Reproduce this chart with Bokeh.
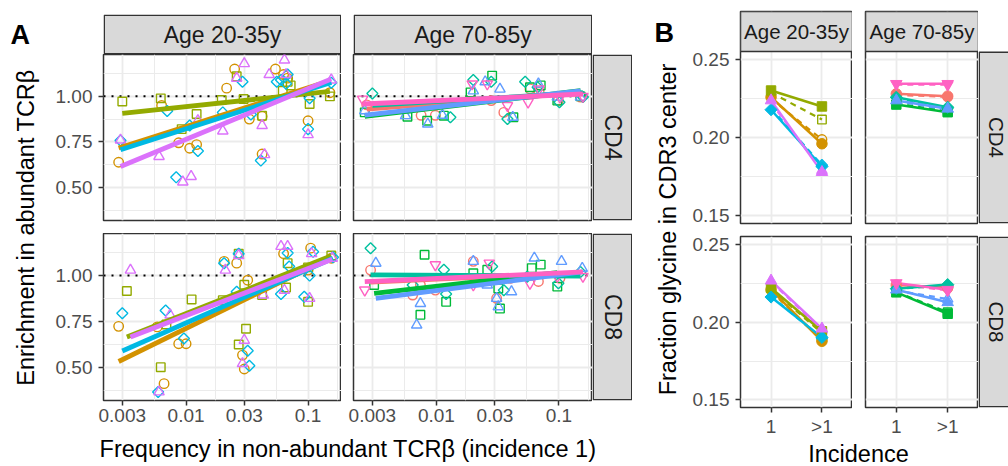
import numpy as np
from bokeh.plotting import figure
from bokeh.layouts import row, column
from bokeh.models import Range1d, FixedTicker, NumeralTickFormatter, Spacer, Label, Span
from bokeh.embed import file_html
from bokeh.resources import INLINE

# ---------------------------------------------------------------- data
# donor colours / shapes (ggplot hue palette, 9 donors)
donor_names = ["salmon", "orange", "olive", "green", "teal", "cyan", "blue", "magenta", "pink"]
donor_colors = ["#F8766D", "#D39200", "#93AA00", "#00BA38", "#00C19F", "#00B9E3", "#619CFF", "#DB72FB", "#FF61C3"]
donor_shapes = ["circle", "circle", "square", "square", "diamond", "diamond", "triangle", "triangle", "inverted_triangle"]

# Panel A  x ticks / y ticks
freq_ticks = [0.003, 0.01, 0.03, 0.1]
freq_minor = [0.005477, 0.01732, 0.05477, 0.1732]
enr_ticks = [0.5, 0.75, 1.0]
enr_minor = [0.375, 0.625, 0.875, 1.125]

# ---- Panel A, Age 20-35y, CD4
ay4_orange_f = [0.0028, 0.0063, 0.0087, 0.0107, 0.0122, 0.0215, 0.025, 0.033, 0.042, 0.042, 0.054, 0.063, 0.068, 0.100, 0.151]
ay4_orange_e = [0.638, 0.950, 0.745, 0.715, 0.735, 1.045, 1.150, 0.875, 0.890, 0.683, 1.150, 1.120, 1.100, 0.866, 1.020]
ay4_olive_f = [0.0030, 0.0062, 0.0092, 0.0122, 0.0196, 0.026, 0.0296, 0.042, 0.062, 0.068, 0.072, 0.103, 0.151]
ay4_olive_e = [0.972, 0.989, 0.820, 0.903, 0.980, 1.110, 0.985, 0.894, 1.030, 1.080, 1.060, 0.958, 1.000]
ay4_cyan_f = [0.0029, 0.0070, 0.0083, 0.0107, 0.0125, 0.020, 0.029, 0.034, 0.041, 0.0554, 0.060, 0.066, 0.068, 0.100, 0.103, 0.155]
ay4_cyan_e = [0.757, 0.920, 0.555, 0.840, 0.700, 0.912, 1.080, 0.900, 0.647, 1.080, 1.090, 1.070, 1.120, 0.820, 0.990, 1.075]
ay4_magenta_f = [0.0029, 0.0060, 0.0094, 0.0110, 0.0125, 0.020, 0.026, 0.030, 0.042, 0.044, 0.048, 0.064, 0.066, 0.100, 0.155]
ay4_magenta_e = [0.760, 0.670, 0.530, 0.560, 0.866, 0.810, 1.100, 1.180, 0.840, 0.680, 1.120, 1.200, 1.120, 0.790, 1.090]
# fitted line values at the smallest / largest frequency of each donor
ay4_fit = {"orange": (0.716, 1.085), "olive": (0.907, 1.027), "cyan": (0.707, 1.077), "magenta": (0.615, 1.095)}

# ---- Panel A, Age 20-35y, CD8
ay8_orange_f = [0.0028, 0.0058, 0.0066, 0.0087, 0.0100, 0.0205, 0.026, 0.029, 0.030, 0.032, 0.063, 0.100, 0.105, 0.155]
ay8_orange_e = [0.723, 0.720, 0.410, 0.628, 0.628, 1.078, 1.068, 0.566, 0.490, 0.975, 1.120, 1.030, 1.150, 1.095]
ay8_olive_f = [0.00327, 0.0062, 0.0069, 0.0111, 0.020, 0.027, 0.027, 0.030, 0.031, 0.042, 0.066, 0.068, 0.100, 0.100, 0.155]
ay8_olive_e = [0.916, 0.500, 0.733, 0.870, 0.866, 1.120, 0.624, 0.950, 0.710, 0.894, 0.935, 1.068, 0.857, 1.045, 1.110]
ay8_cyan_f = [0.0030, 0.0059, 0.0068, 0.0096, 0.0205, 0.026, 0.027, 0.032, 0.033, 0.060, 0.068, 0.070, 0.093, 0.103, 0.110, 0.160]
ay8_cyan_e = [0.794, 0.365, 0.810, 0.656, 1.068, 0.912, 1.120, 0.590, 0.508, 0.900, 1.123, 1.050, 0.885, 1.000, 1.130, 1.100]
ay8_magenta_f = [0.0035, 0.0060, 0.0074, 0.021, 0.027, 0.029, 0.030, 0.043, 0.060, 0.064, 0.068, 0.103, 0.107, 0.158]
ay8_magenta_e = [1.030, 0.365, 0.785, 1.030, 1.110, 0.520, 0.647, 0.894, 1.160, 0.920, 1.160, 0.876, 1.120, 1.095]
ay8_fit = {"orange": (0.531, 1.100), "olive": (0.665, 1.108), "cyan": (0.588, 1.095), "magenta": (0.665, 1.090)}

# ---- Panel A, Age 70-85y, CD4
ao4_salmon_f = [0.0027, 0.0075, 0.0098, 0.028, 0.0355, 0.058, 0.069, 0.099, 0.150]
ao4_salmon_e = [0.953, 0.896, 0.896, 0.977, 0.912, 1.041, 1.022, 0.977, 0.996]
ao4_green_f = [0.0026, 0.0058, 0.0084, 0.0115, 0.019, 0.0285, 0.0425, 0.058, 0.071, 0.097, 0.150]
ao4_green_e = [0.912, 0.888, 0.866, 0.894, 1.022, 1.114, 0.885, 1.050, 1.060, 0.977, 1.000]
ao4_teal_f = [0.0030, 0.013, 0.020, 0.028, 0.038, 0.053, 0.067, 0.101, 0.157]
ao4_teal_e = [1.016, 0.885, 1.090, 1.080, 0.876, 1.080, 1.050, 0.968, 0.996]
ao4_blue_f = [0.0026, 0.0056, 0.0085, 0.0112, 0.020, 0.025, 0.033, 0.042, 0.068, 0.097, 0.150]
ao4_blue_e = [0.921, 0.894, 0.848, 0.896, 1.030, 1.080, 1.040, 0.885, 1.068, 0.996, 0.996]
ao4_pink_f = [0.0025, 0.0196, 0.026, 0.038, 0.056, 0.069, 0.102, 0.157]
ao4_pink_e = [0.985, 1.068, 1.068, 0.949, 0.968, 1.041, 0.996, 1.000]
ao4_fit = {"salmon": (0.930, 1.020), "green": (0.890, 1.031), "teal": (0.950, 1.020), "blue": (0.897, 1.030), "pink": (0.958, 1.013)}

# ---- Panel A, Age 70-85y, CD8
ao8_salmon_f = [0.0029, 0.0064, 0.0074, 0.0098, 0.020, 0.031, 0.040, 0.068, 0.102]
ao8_salmon_e = [1.030, 0.894, 0.949, 0.921, 1.078, 0.876, 0.985, 0.968, 0.985]
ao8_green_f = [0.0031, 0.0074, 0.008, 0.012, 0.020, 0.026, 0.032, 0.033, 0.060, 0.071, 0.097]
ao8_green_e = [0.949, 0.786, 1.114, 0.857, 1.013, 1.032, 0.930, 0.820, 1.041, 1.060, 0.940]
ao8_teal_f = [0.0029, 0.0064, 0.0115, 0.012, 0.0285, 0.0355, 0.055, 0.099, 0.150]
ao8_teal_e = [1.150, 0.949, 1.032, 0.900, 1.050, 0.920, 0.994, 0.958, 1.020]
ao8_blue_f = [0.0032, 0.0069, 0.0074, 0.020, 0.026, 0.031, 0.032, 0.041, 0.063, 0.105, 0.155]
ao8_blue_e = [1.068, 0.730, 0.848, 1.078, 0.949, 0.876, 0.830, 0.912, 1.096, 1.078, 1.040]
ao8_pink_f = [0.0026, 0.0098, 0.020, 0.027, 0.058, 0.097, 0.157]
ao8_pink_e = [0.921, 1.059, 0.949, 1.068, 0.958, 0.996, 0.996]
ao8_fit = {"salmon": (0.965, 1.010), "green": (0.903, 1.016), "teal": (1.004, 0.998), "blue": (0.876, 1.020), "pink": (0.967, 1.020)}

# ---- Panel B: fraction glycine, incidence "1" and ">1"
incidence = ["1", ">1"]
gly_ticks = [0.15, 0.20, 0.25]
gly_minor = [0.175, 0.225]
# solid line (filled points) and dashed line (open points) per donor
by4_solid = {"orange": [0.2260, 0.1962], "olive": [0.2303, 0.2201], "cyan": [0.2180, 0.1816], "magenta": [0.2239, 0.1780]}
by4_dash = {"orange": [0.2250, 0.1989], "olive": [0.2290, 0.2117], "cyan": [0.2190, 0.1825], "magenta": [0.2225, 0.1790]}
bo4_solid = {"salmon": [0.2282, 0.2267], "green": [0.2213, 0.2164], "teal": [0.2260, 0.2196], "blue": [0.2239, 0.2186], "pink": [0.2346, 0.2346]}
bo4_dash = {"salmon": [0.2275, 0.2262], "green": [0.2220, 0.2170], "teal": [0.2255, 0.2190], "blue": [0.2235, 0.2180], "pink": [0.2340, 0.2340]}
by8_solid = {"orange": [0.2210, 0.1878], "olive": [0.2221, 0.1942], "cyan": [0.2163, 0.1903], "magenta": [0.2268, 0.1959]}
by8_dash = {"orange": [0.2200, 0.1885], "olive": [0.2215, 0.1930], "cyan": [0.2170, 0.1895], "magenta": [0.2262, 0.1950]}
bo8_solid = {"salmon": [0.2240, 0.2225], "green": [0.2193, 0.2055], "teal": [0.2217, 0.2243], "blue": [0.2210, 0.2129], "pink": [0.2253, 0.2210]}
bo8_dash = {"salmon": [0.2235, 0.2220], "green": [0.2195, 0.2065], "teal": [0.2215, 0.2238], "blue": [0.2205, 0.2150], "pink": [0.2248, 0.2205]}

# ---------------------------------------------------------------- style
FONT = "Liberation Sans"
GRID = "#EBEBEB"
DARK = "#333333"
STRIPFILL = "#D9D9D9"
TICKTXT = "#4D4D4D"
COL = dict(zip(donor_names, donor_colors))
SHP = dict(zip(donor_names, donor_shapes))

XA = (10 ** -2.677, 10 ** -0.726)
YA = (0.318, 1.230)
XB = (0.4, 2.6)
YB = (0.1451, 0.2553)
PXB = 172 / (YB[1] - YB[0])       # pixels per unit in panel B
STRIPB = 40 / PXB                  # strip height of panel B in data units


def txt(p, x, y, s, size, color="black", angle=0.0, align="center", baseline="middle", bold=False):
    p.add_layout(Label(x=x, y=y, text=s, text_font=FONT, text_font_size=f"{size}px",
                       text_color=color, angle=angle, text_align=align, text_baseline=baseline,
                       text_font_style="bold" if bold else "normal"))


def canvas(w, h, mbl=0, mbt=0, mbb=0):
    fw, fh = w - mbl, h - mbt - mbb
    p = figure(width=w, height=h, x_range=Range1d(0, fw), y_range=Range1d(fh, 0),
               output_backend="svg", toolbar_location=None,
               min_border_left=mbl, min_border_right=0, min_border_top=mbt, min_border_bottom=mbb)
    p.axis.visible = False
    p.grid.visible = False
    p.outline_line_color = None
    p.background_fill_color = "white"
    p.border_fill_color = "white"
    return p, fw, fh


def strip(w, h, text, size, mbl=0, mbt=0, mbb=0, vertical=False, cut=False, inset=0):
    p, fw, fh = canvas(w, h, mbl, mbt, mbb)
    right = fw + 30 if cut else fw - 0.75
    p.quad(left=0.75, right=right, top=inset + 0.75, bottom=fh - 0.75, fill_color=STRIPFILL,
           line_color=DARK, line_width=1.5)
    cx = 18 if cut else fw / 2
    txt(p, cx, (fh + inset) / 2, text, size, color="#1A1A1A", angle=-np.pi / 2 if vertical else 0.0)
    return p


def style(p, xt, xm, yt, ym, show_x, show_y, xs=3, ys=6):
    xtk = FixedTicker(ticks=xt, minor_ticks=xm)
    ytk = FixedTicker(ticks=yt, minor_ticks=ym)
    p.xaxis.ticker = xtk
    p.xgrid.ticker = xtk
    p.yaxis.ticker = ytk
    p.ygrid.ticker = ytk
    for g in (p.xgrid[0], p.ygrid[0]):
        g.grid_line_color = GRID
        g.grid_line_width = 1.8
        g.minor_grid_line_color = GRID
        g.minor_grid_line_width = 1
    p.background_fill_color = "white"
    p.border_fill_color = "white"
    p.outline_line_color = DARK
    p.outline_line_width = 1.5
    for ax, show, so in ((p.xaxis[0], show_x, xs), (p.yaxis[0], show_y, ys)):
        ax.visible = show
        ax.axis_line_color = None
        ax.major_tick_line_color = DARK
        ax.major_tick_line_width = 1.5
        ax.major_tick_out = 5
        ax.major_tick_in = 0
        ax.minor_tick_line_color = None
        ax.major_label_text_font = FONT
        ax.major_label_text_font_size = "19px"
        ax.major_label_text_color = TICKTXT
        ax.major_label_standoff = so


def markers(p, x, y, name, filled, size):
    c = COL[name]
    shape = SHP[name]
    kw = dict(line_color=c, fill_color=c if filled else None, line_width=1 if filled else 1.4)
    if shape == "circle":
        p.scatter(x, y, marker="circle", size=size, **kw)
    elif shape == "square":
        p.scatter(x, y, marker="square", size=size * 0.9, **kw)
    elif shape == "diamond":
        p.scatter(x, y, marker="square", angle=np.pi / 4, size=size * 0.82, **kw)
    else:
        p.scatter(x, y, marker=shape, size=size * 1.1, **kw)


def facet_a(groups, fits, w, h, mbl, mbb, show_x, show_y):
    p = figure(width=w, height=h, x_axis_type="log", x_range=Range1d(*XA), y_range=Range1d(*YA),
               output_backend="svg", toolbar_location=None,
               min_border_left=mbl, min_border_right=0, min_border_top=0, min_border_bottom=mbb)
    style(p, freq_ticks, freq_minor, enr_ticks, enr_minor, show_x, show_y, xs=3, ys=6)
    p.xaxis.formatter = NumeralTickFormatter(format="0.[000]")
    p.yaxis.formatter = NumeralTickFormatter(format="0.00")
    p.add_layout(Span(location=1.0, dimension="width", line_color="black", line_dash="2 6",
                      line_width=2, level="underlay"))
    for name, fx, fy in groups:
        markers(p, fx, fy, name, False, 9.5)
    for name, fx, fy in groups:
        lo, hi = fits[name]
        p.line([min(fx), max(fx)], [lo, hi], line_width=4.8, line_color=COL[name])
    return p


def facet_b(solid, dash, w, h, mbl, mbt, mbb, show_x, show_y, strip_text=None):
    ytop = YB[1] + (STRIPB if strip_text else 0.0)
    p = figure(width=w, height=h, x_range=Range1d(*XB), y_range=Range1d(YB[0], ytop),
               output_backend="svg", toolbar_location=None,
               min_border_left=mbl, min_border_right=0, min_border_top=mbt, min_border_bottom=mbb)
    xpos = [i + 1 for i in range(len(incidence))]
    style(p, xpos, [], gly_ticks, gly_minor, show_x, show_y, xs=3, ys=6)
    p.xaxis.major_label_overrides = {i + 1: lab for i, lab in enumerate(incidence)}
    p.yaxis.formatter = NumeralTickFormatter(format="0.00")
    if strip_text:
        # facet strip on top of the panel
        p.quad(left=XB[0], right=XB[1], bottom=YB[1], top=ytop, fill_color=STRIPFILL,
               line_color=DARK, line_width=1.5)
        txt(p, (XB[0] + XB[1]) / 2, YB[1] + STRIPB / 2, strip_text, 20.5, color="#1A1A1A")
    for name, v in dash.items():
        p.line(xpos, v, line_width=2.2, line_color=COL[name], line_dash="6 5")
    for name, v in solid.items():
        p.line(xpos, v, line_width=2.5, line_color=COL[name])
    for name, v in dash.items():
        markers(p, xpos[1:], v[1:], name, False, 9.5)
    for name, v in solid.items():
        markers(p, xpos, v, name, True, 10.5)
    return p


# ---------------------------------------------------------------- panel A
ay4 = [("orange", ay4_orange_f, ay4_orange_e), ("olive", ay4_olive_f, ay4_olive_e),
       ("cyan", ay4_cyan_f, ay4_cyan_e), ("magenta", ay4_magenta_f, ay4_magenta_e)]
ay8 = [("orange", ay8_orange_f, ay8_orange_e), ("olive", ay8_olive_f, ay8_olive_e),
       ("cyan", ay8_cyan_f, ay8_cyan_e), ("magenta", ay8_magenta_f, ay8_magenta_e)]
ao4 = [("salmon", ao4_salmon_f, ao4_salmon_e), ("green", ao4_green_f, ao4_green_e),
       ("teal", ao4_teal_f, ao4_teal_e), ("blue", ao4_blue_f, ao4_blue_e), ("pink", ao4_pink_f, ao4_pink_e)]
ao8 = [("salmon", ao8_salmon_f, ao8_salmon_e), ("green", ao8_green_f, ao8_green_e),
       ("teal", ao8_teal_f, ao8_teal_e), ("blue", ao8_blue_f, ao8_blue_e), ("pink", ao8_pink_f, ao8_pink_e)]

marginA, _, _ = canvas(50, 466)
txt(marginA, 10, 34, "A", 27, align="left", baseline="alphabetic", bold=True)
txt(marginA, 25, 227, "Enrichment in abundant TCRβ", 23.5, angle=np.pi / 2)

stripA = row(strip(291, 54, "Age 20-35y", 23, mbl=53, mbt=14),
             strip(251, 54, "Age 70-85y", 23, mbl=12, mbt=14),
             Spacer(width=40, height=54))
rowA1 = row(facet_a(ay4, ay4_fit, 291, 179, 53, 13, False, True),
            facet_a(ao4, ao4_fit, 251, 179, 12, 13, False, False),
            strip(40, 179, "CD4", 23, mbb=13, vertical=True))
rowA2 = row(facet_a(ay8, ay8_fit, 291, 200, 53, 33, True, True),
            facet_a(ao8, ao8_fit, 251, 200, 12, 33, True, False),
            strip(40, 200, "CD8", 23, mbb=33, vertical=True))
titleA, _, _ = canvas(582, 33)
txt(titleA, 297.5, 15, "Frequency in non-abundant TCRβ (incidence 1)", 23.5)
blockA = row(marginA, column(stripA, rowA1, rowA2, titleA))

# ---------------------------------------------------------------- panel B
marginB, _, _ = canvas(50, 466)
txt(marginB, 22, 32, "B", 27, align="left", baseline="alphabetic", bold=True)
txt(marginB, 35, 229, "Fraction glycine in CDR3 center", 23.5, angle=np.pi / 2)

rowB1 = row(facet_b(by4_solid, by4_dash, 170, 228, 58, 11, 5, False, True, "Age 20-35y"),
            facet_b(bo4_solid, bo4_dash, 126, 228, 13, 11, 5, False, False, "Age 70-85y"),
            strip(30, 228, "CD4", 20.5, mbt=11, mbb=5, vertical=True, cut=True, inset=40))
rowB2 = row(facet_b(by8_solid, by8_dash, 170, 211, 58, 8, 32, True, True),
            facet_b(bo8_solid, bo8_dash, 126, 211, 13, 8, 32, True, False),
            strip(30, 211, "CD8", 20.5, mbt=8, mbb=32, vertical=True, cut=True))
titleB, _, _ = canvas(326, 27)
txt(titleB, 176, 14, "Incidence", 23.5)
blockB = row(marginB, column(rowB1, rowB2, titleB))

root = row(blockA, blockB)
open("out.html", "w").write(file_html(root, INLINE))
